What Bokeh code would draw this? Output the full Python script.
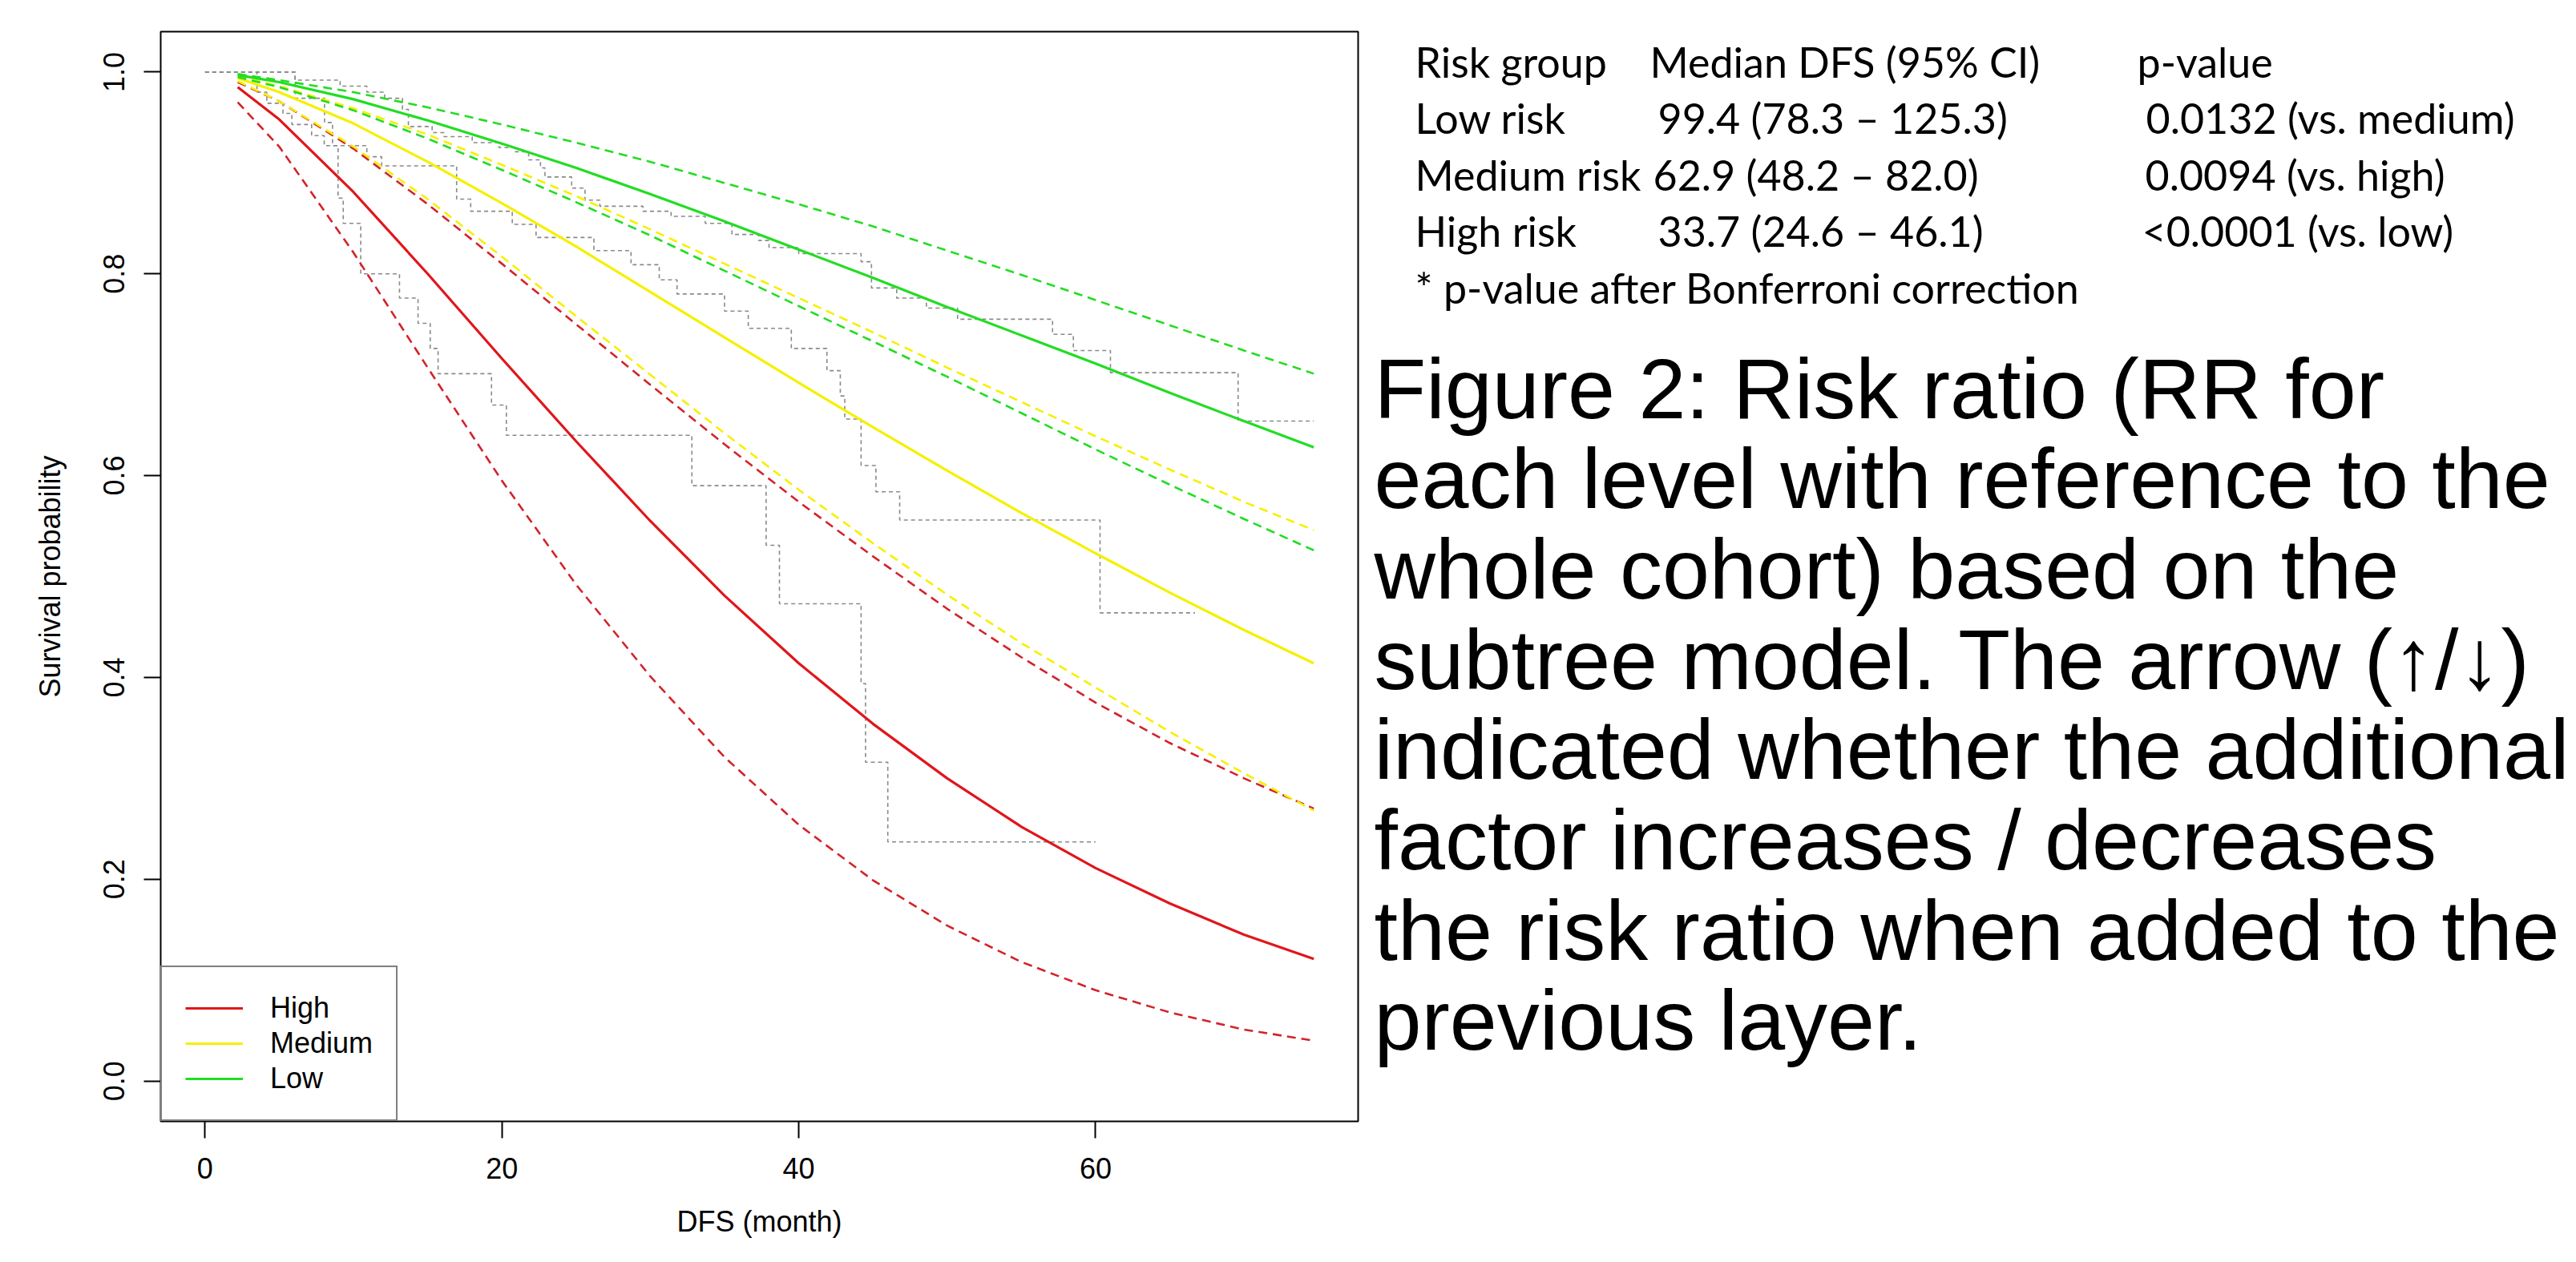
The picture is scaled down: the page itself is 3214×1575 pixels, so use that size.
from bokeh.plotting import figure
from bokeh.layouts import row
from bokeh.models import Range1d, FixedTicker, NumeralTickFormatter, Legend, LegendItem, ColumnDataSource
from bokeh.core.properties import value
from bokeh.embed import file_html
from bokeh.resources import INLINE

# ---------------- data ----------------
t_fit = [2.2, 5, 10, 15, 20, 25, 30, 35, 40, 45, 50, 55, 60, 65, 70, 74.7]

high_est = [0.985, 0.953, 0.881, 0.800, 0.716, 0.634, 0.555, 0.481, 0.414, 0.354, 0.300, 0.252, 0.211, 0.176, 0.145, 0.121]
high_lo  = [0.970, 0.926, 0.821, 0.707, 0.595, 0.492, 0.401, 0.321, 0.254, 0.199, 0.154, 0.118, 0.090, 0.068, 0.051, 0.040]
high_hi  = [0.990, 0.971, 0.924, 0.869, 0.810, 0.750, 0.690, 0.631, 0.574, 0.520, 0.468, 0.420, 0.375, 0.335, 0.300, 0.270]

med_est = [0.994, 0.980, 0.949, 0.911, 0.870, 0.827, 0.782, 0.737, 0.692, 0.648, 0.605, 0.563, 0.523, 0.484, 0.447, 0.414]
med_lo  = [0.991, 0.971, 0.926, 0.874, 0.817, 0.758, 0.700, 0.642, 0.586, 0.533, 0.482, 0.434, 0.390, 0.346, 0.305, 0.268]
med_hi  = [0.996, 0.986, 0.964, 0.938, 0.908, 0.877, 0.844, 0.810, 0.776, 0.742, 0.707, 0.673, 0.639, 0.606, 0.574, 0.546]

low_est = [0.997, 0.990, 0.973, 0.952, 0.929, 0.905, 0.879, 0.852, 0.824, 0.796, 0.767, 0.739, 0.711, 0.682, 0.654, 0.628]
low_lo  = [0.995, 0.985, 0.962, 0.934, 0.903, 0.871, 0.838, 0.803, 0.768, 0.733, 0.698, 0.662, 0.626, 0.591, 0.557, 0.526]
low_hi  = [0.998, 0.992, 0.980, 0.965, 0.948, 0.930, 0.911, 0.890, 0.869, 0.847, 0.823, 0.799, 0.774, 0.749, 0.724, 0.701]

# Kaplan-Meier step curves (grey)
km_high_t = [0, 6.07, 8.05, 8.59, 8.96, 9.31, 10.49, 13.1, 14.35, 15.17, 15.7, 19.3, 20.3, 32.8, 37.8, 38.7, 44.2, 44.5, 46.0, 60.0]
km_high_s = [1.0, 0.974, 0.950, 0.927, 0.875, 0.850, 0.800, 0.776, 0.751, 0.726, 0.701, 0.670, 0.640, 0.590, 0.531, 0.473, 0.394, 0.316, 0.237, 0.237]

km_med_t = [0, 3.5, 4.16, 5.25, 5.85, 7.18, 8.03, 10.9, 11.9, 16.95, 17.9, 20.7, 22.3, 26.2, 28.7, 30.6, 31.8, 35.0, 36.6, 39.5, 41.9, 42.8, 43.1, 44.2, 45.2, 46.8, 60.3, 66.7]
km_med_s = [1.0, 0.980, 0.969, 0.959, 0.948, 0.937, 0.927, 0.916, 0.907, 0.874, 0.862, 0.849, 0.836, 0.823, 0.809, 0.794, 0.780, 0.763, 0.746, 0.726, 0.704, 0.679, 0.656, 0.610, 0.584, 0.556, 0.464, 0.464]

km_low_t = [0, 6.07, 9.1, 10.9, 12.1, 13.3, 13.7, 15.3, 16.1, 18.0, 19.8, 20.9, 21.8, 22.6, 22.9, 24.7, 25.6, 26.6, 29.5, 31.4, 33.7, 35.5, 37.3, 38.0, 40.0, 44.2, 44.9, 46.6, 48.6, 50.7, 57.1, 58.5, 61.0, 69.6, 74.7]
km_low_s = [1.0, 0.992, 0.986, 0.980, 0.974, 0.963, 0.946, 0.940, 0.936, 0.930, 0.925, 0.921, 0.913, 0.905, 0.896, 0.885, 0.873, 0.867, 0.862, 0.857, 0.850, 0.839, 0.833, 0.826, 0.820, 0.812, 0.786, 0.776, 0.766, 0.755, 0.740, 0.724, 0.702, 0.654, 0.654]

legend_labels = ["High", "Medium", "Low"]
x_ticks = [0, 20, 40, 60]
y_ticks = [0.0, 0.2, 0.4, 0.6, 0.8, 1.0]
x_title = "DFS (month)"
y_title = "Survival probability"

table_col1 = ["Risk group", "Low risk", "Medium risk", "High risk", "* p-value after Bonferroni correction"]
table_col2 = ["Median DFS (95% CI)", "99.4 (78.3 \u2013 125.3)", "62.9 (48.2 \u2013 82.0)", "33.7 (24.6 \u2013 46.1)", ""]
table_col3 = ["p-value", "0.0132 (vs. medium)", "0.0094 (vs. high)", "<0.0001 (vs. low)", ""]

caption_lines = [
    "Figure 2: Risk ratio (RR for",
    "each level with reference to the",
    "whole cohort) based on the",
    "subtree model. The arrow (\u2191/\u2193)",
    "indicated whether the additional",
    "factor increases / decreases",
    "the risk ratio when added to the",
    "previous layer.",
]

# ---------------- styling ----------------
RED = "#E0161B"
RED_D = "#D2232A"
YEL = "#F5F000"
GRN = "#22DD22"
GRY = "#8A8A8A"
AX_FONT = "Liberation Sans"

# page geometry (screen px)
H = 1559
FR_L, FR_T, FR_W, FR_H = 200, 39, 1494, 1360
W_LEFT = 1708
W_RIGHT = 3206 - W_LEFT

# x / y ranges: R style 4% expansion
xmin_d = 0.0
xmax_d = max(max(t_fit), max(km_low_t), max(km_med_t), max(km_high_t))
xpad = 0.04 * (xmax_d - xmin_d)
ypad = 0.04

p = figure(width=W_LEFT, height=H,
           x_range=Range1d(xmin_d - xpad, xmax_d + xpad),
           y_range=Range1d(0 - ypad, 1 + ypad),
           output_backend="svg", toolbar_location=None,
           min_border_left=FR_L, min_border_right=W_LEFT - FR_L - FR_W,
           min_border_top=FR_T, min_border_bottom=H - FR_T - FR_H)
p.xgrid.visible = False
p.ygrid.visible = False
p.outline_line_color = "black"
p.outline_line_width = 2
p.background_fill_color = "white"
p.border_fill_color = "white"

for ax in (p.xaxis[0], p.yaxis[0]):
    ax.axis_line_color = None
    ax.major_tick_line_color = "black"
    ax.major_tick_line_width = 2
    ax.major_tick_out = 21
    ax.major_tick_in = 0
    ax.minor_tick_line_color = None
    ax.major_label_text_font = AX_FONT
    ax.major_label_text_font_size = "36px"
    ax.major_label_text_color = "black"
    ax.axis_label_text_font = AX_FONT
    ax.axis_label_text_font_size = "36px"
    ax.axis_label_text_font_style = "normal"
    ax.axis_label_text_color = "black"
    ax.major_label_standoff = 24

p.xaxis.ticker = FixedTicker(ticks=x_ticks)
p.yaxis.ticker = FixedTicker(ticks=y_ticks)
p.yaxis.formatter = NumeralTickFormatter(format="0.0")
p.yaxis.major_label_orientation = "vertical"
p.xaxis.axis_label = x_title
p.yaxis.axis_label = y_title
p.xaxis.axis_label_standoff = 30
p.yaxis.axis_label_standoff = 44

# KM step curves
for tt, ss in ((km_high_t, km_high_s), (km_med_t, km_med_s), (km_low_t, km_low_s)):
    p.step(tt, ss, mode="after", line_color=GRY, line_width=1.6, line_dash="5 4")

# fitted curves + CIs
DASH = "11 7"
solid = []
for est, lo, hi, col, cold in ((high_est, high_lo, high_hi, RED, RED_D),
                               (med_est, med_lo, med_hi, YEL, YEL),
                               (low_est, low_lo, low_hi, GRN, GRN)):
    p.line(t_fit, lo, line_color=cold, line_width=2.6, line_dash=DASH)
    p.line(t_fit, hi, line_color=cold, line_width=2.6, line_dash=DASH)
    solid.append(p.line(t_fit, est, line_color=col, line_width=3.2))

leg_items = [LegendItem(label=lab, renderers=[r]) for lab, r in zip(legend_labels, solid)]
legend = Legend(items=leg_items, location="bottom_left", margin=0,
                padding=29, spacing=0, glyph_width=72, glyph_height=44,
                label_height=44, label_standoff=34,
                label_text_font=AX_FONT, label_text_font_size="36px",
                label_text_color="black",
                border_line_color="black", border_line_width=2,
                background_fill_color="white", background_fill_alpha=1.0)
p.add_layout(legend)

# ---------------- right panel: table and caption ----------------
# frame of the right panel uses the same borders as the chart, data units = screen px
q = figure(width=W_RIGHT, height=H,
           x_range=Range1d(W_LEFT, W_LEFT + W_RIGHT), y_range=Range1d(FR_T + FR_H, FR_T),
           x_axis_type=None, y_axis_type=None, output_backend="svg",
           toolbar_location=None, min_border_left=0, min_border_right=0,
           min_border_top=FR_T, min_border_bottom=H - FR_T - FR_H)
q.outline_line_color = None
q.grid.visible = False

tab_base = [76, 146, 217, 287, 358]
col_x1 = [1765] * 5
col_x2 = [2058, 2068, 2062, 2068, 2068]
col_x3 = [2666, 2677, 2676, 2672, 2672]
for xs, txts in ((col_x1, table_col1), (col_x2, table_col2), (col_x3, table_col3)):
    src = ColumnDataSource(dict(x=xs, y=tab_base, t=txts))
    q.text(x="x", y="y", text="t", source=src, text_font=value("Lato"), text_font_size="52px",
           text_color="black", text_baseline="alphabetic", text_align="left")

cap_x = 1714
cap_first = 484
cap_pitch = 112.7
src = ColumnDataSource(dict(
    x=[cap_x] * len(caption_lines),
    y=[cap_first + i * cap_pitch for i in range(len(caption_lines))],
    t=caption_lines))
q.text(x="x", y="y", text="t", source=src, text_font=value("Liberation Sans"),
       text_font_size="106px", text_color="black", text_baseline="alphabetic", text_align="left")

layout = row(p, q)
open("out.html", "w").write(file_html(layout, INLINE))
